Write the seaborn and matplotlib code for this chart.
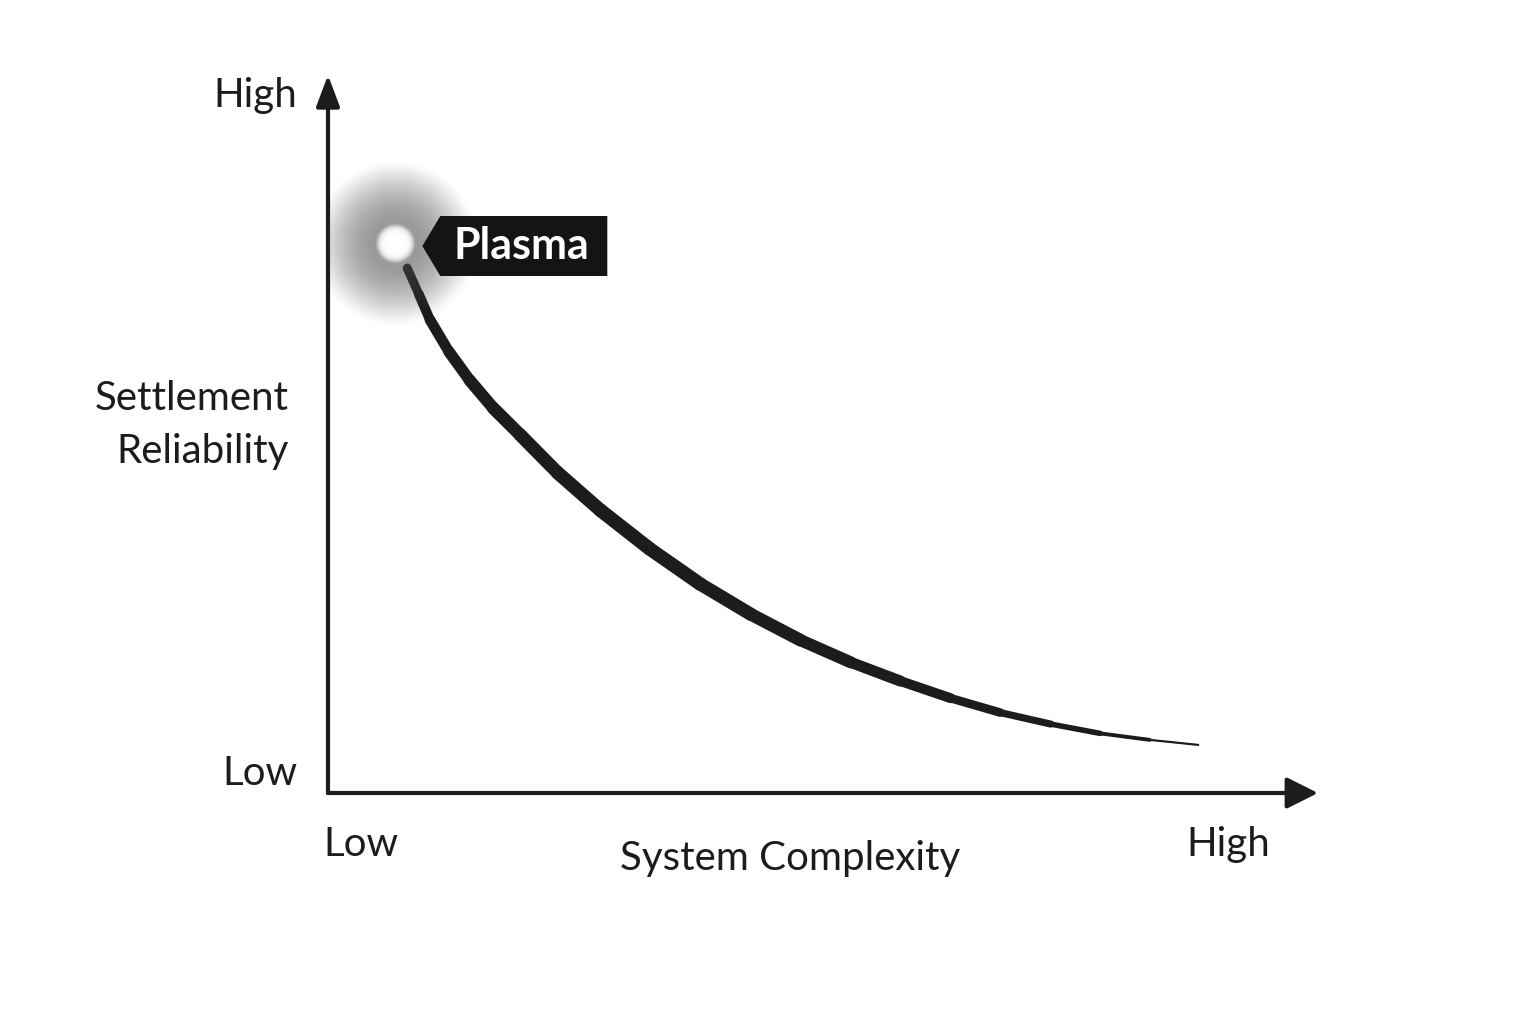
import numpy as np
import matplotlib
matplotlib.use('Agg')
import matplotlib.pyplot as plt
from matplotlib.collections import LineCollection
from matplotlib.patches import Polygon
from matplotlib.transforms import ScaledTranslation
import pandas as pd
import seaborn as sns

sns.set_theme(style='white')
plt.rcParams['font.family'] = ['Lato', 'DejaVu Sans']

# curve (0 = low, 1 = high)
complexity = [0.080, 0.092, 0.103, 0.122, 0.143, 0.167, 0.194, 0.232, 0.275,
              0.325, 0.376, 0.427, 0.477, 0.528, 0.578, 0.629, 0.679, 0.730,
              0.780, 0.830, 0.879]
reliability = [0.731, 0.694, 0.659, 0.615, 0.575, 0.536, 0.499, 0.446, 0.394,
               0.340, 0.291, 0.249, 0.213, 0.182, 0.156, 0.132, 0.112, 0.096,
               0.083, 0.074, 0.067]
curve_width = [6.2, 6.8, 7.4, 8.0, 8.5, 9.0, 9.4, 9.7, 9.9, 9.9, 9.7, 9.4,
               9.0, 8.4, 7.6, 6.7, 5.7, 4.6, 3.4, 2.2, 0.9]

plasma_x, plasma_y = 0.068, 0.766
plasma_label = 'Plasma'

x_ticks = [0.033, 0.909]
x_ticklabels = ['Low', 'High']
y_ticks = [0.032, 0.976]
y_ticklabels = ['Low', 'High']

df = pd.DataFrame({'complexity': complexity, 'reliability': reliability})

fig = plt.figure(figsize=(15.36, 10.24), dpi=100)
ax = fig.add_axes([328 / 1536, 1 - 793 / 1024, 990 / 1536, 718 / 1024])
ax.set_xlim(0, 1)
ax.set_ylim(0, 1)
for s in ax.spines.values():
    s.set_visible(False)

ink = '#1c1c1c'

# axes with arrow heads
ax.annotate('', xy=(1.0, 0), xytext=(0, 0), xycoords='axes fraction',
            arrowprops=dict(arrowstyle='-|>,head_length=1.6,head_width=0.8',
                            color=ink, lw=3, shrinkA=0, shrinkB=0))
ax.annotate('', xy=(0, 1.0), xytext=(0, 0), xycoords='axes fraction',
            arrowprops=dict(arrowstyle='-|>,head_length=1.6,head_width=0.6',
                            color=ink, lw=3, shrinkA=0, shrinkB=0))

# tapered curve
sns.lineplot(data=df, x='complexity', y='reliability', ax=ax, color=ink,
             lw=0.8, sort=False)
pts = np.column_stack([complexity, reliability])
segs = np.stack([pts[:-1], pts[1:]], axis=1)
widths = [(a + b) / 2 for a, b in zip(curve_width[:-1], curve_width[1:])]
ax.add_collection(LineCollection(segs, linewidths=widths, colors=ink,
                                 capstyle='round', joinstyle='round'))

# glowing point
for size, alpha in zip(np.linspace(14000, 1500, 26), np.linspace(0.012, 0.05, 26)):
    ax.scatter([plasma_x], [plasma_y], s=size, color='#555555', alpha=alpha,
               linewidths=0, zorder=5)
for size, alpha in zip(np.linspace(800, 200, 10), np.linspace(0.15, 0.6, 10)):
    ax.scatter([plasma_x], [plasma_y], s=size, color='white', alpha=alpha,
               linewidths=0, zorder=6)
ax.scatter([plasma_x], [plasma_y], s=170, color='white', linewidths=0, zorder=7)

# label tag anchored to the point (offsets in inches)
anchor = fig.dpi_scale_trans + ScaledTranslation(plasma_x, plasma_y, ax.transData)
tag = Polygon([(0.27, -0.03), (0.45, 0.27), (2.12, 0.27), (2.12, -0.33),
               (0.45, -0.33)], closed=True, facecolor='#141414',
              edgecolor='none', transform=anchor, zorder=8, clip_on=False)
ax.add_patch(tag)
ax.text(1.26, -0.03, plasma_label, transform=anchor, color='white',
        fontsize=31, fontweight='bold', ha='center', va='center', zorder=9)

# ticks
ax.set_xticks(x_ticks)
ax.set_xticklabels(x_ticklabels)
ax.set_yticks(y_ticks)
ax.set_yticklabels(y_ticklabels)
ax.tick_params(axis='both', length=0, labelsize=29, colors=ink)
ax.tick_params(axis='x', pad=24)
ax.tick_params(axis='y', pad=22)

ax.set_xlabel('System Complexity', fontsize=29, color=ink)
ax.xaxis.set_label_coords(0.467, -0.065)
ax.set_ylabel('Settlement\nReliability', fontsize=29, color=ink, rotation=0,
              ha='right', va='center', linespacing=1.55)
ax.yaxis.set_label_coords(-0.04, 0.5125)

fig.savefig('out.png', dpi=100, facecolor='white')
